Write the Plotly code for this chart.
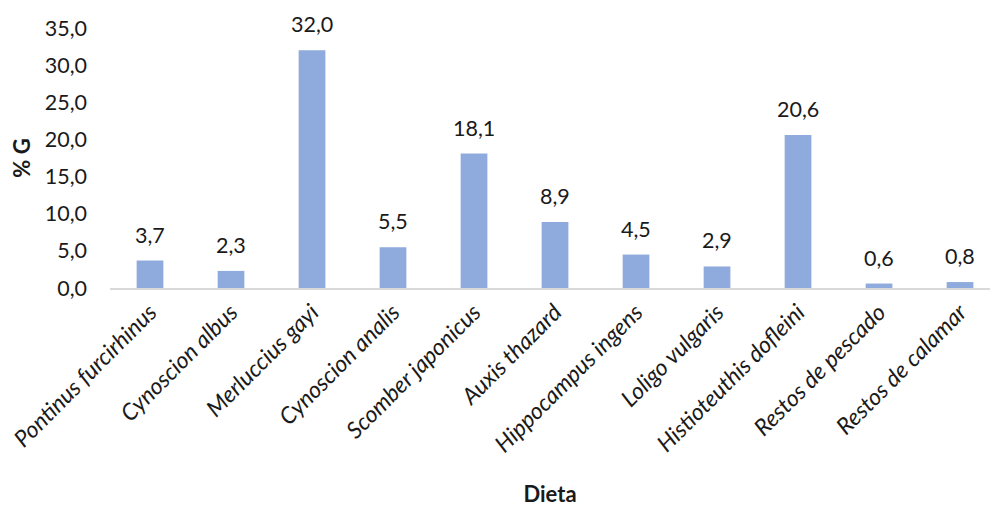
import plotly.graph_objects as go

categories = ["Pontinus furcirhinus", "Cynoscion albus", "Merluccius gayi", "Cynoscion analis",
              "Scomber japonicus", "Auxis thazard", "Hippocampus ingens", "Loligo vulgaris",
              "Histioteuthis dofleini", "Restos de pescado", "Restos de calamar"]
values = [3.7, 2.3, 32.0, 5.5, 18.1, 8.9, 4.5, 2.9, 20.6, 0.6, 0.8]
ytick_vals = [0, 5, 10, 15, 20, 25, 30, 35]
ytick_text = ["0,0", "5,0", "10,0", "15,0", "20,0", "25,0", "30,0", "35,0"]

FONT = "Lato, Open Sans, sans-serif"
TXT = "#1a1a1a"
FS = 21.5

fig = go.Figure()
fig.add_trace(go.Bar(
    x=list(range(len(categories))), y=values,
    marker=dict(color="#8FAADC", line=dict(width=0)),
    width=0.33,
))
for i, v in enumerate(values):
    fig.add_annotation(x=i, y=v, text=f"{v:.1f}".replace(".", ","), showarrow=False,
                       yanchor="bottom", yshift=11, font=dict(family=FONT, size=FS, color=TXT))

fig.update_layout(
    width=990, height=507,
    margin=dict(l=110, r=0, t=28, b=219),
    plot_bgcolor="white", paper_bgcolor="white",
    showlegend=False,
    font=dict(family=FONT, size=FS, color=TXT),
    xaxis=dict(
        range=[-0.494, 10.37],
        tickvals=list(range(len(categories))),
        ticktext=[f"<i>{c}</i>" for c in categories],
        tickangle=-45,
        showline=True, linecolor="#d9d9d9", linewidth=1.5,
        showgrid=False, ticks="", zeroline=False,
        tickfont=dict(family=FONT, size=23, color=TXT),
        title=dict(text="<b>Dieta</b>", font=dict(family=FONT, size=22, color=TXT), standoff=31),
    ),
    yaxis=dict(
        range=[0, 35],
        tickvals=ytick_vals, ticktext=ytick_text,
        showgrid=False, zeroline=False, showline=False, ticks="",
        tickfont=dict(family=FONT, size=FS, color=TXT),
        ticklabelstandoff=22,
        title=dict(text="<b>% G</b>", font=dict(family=FONT, size=22, color=TXT), standoff=8),
    ),
)
fig.write_html("out.html")
